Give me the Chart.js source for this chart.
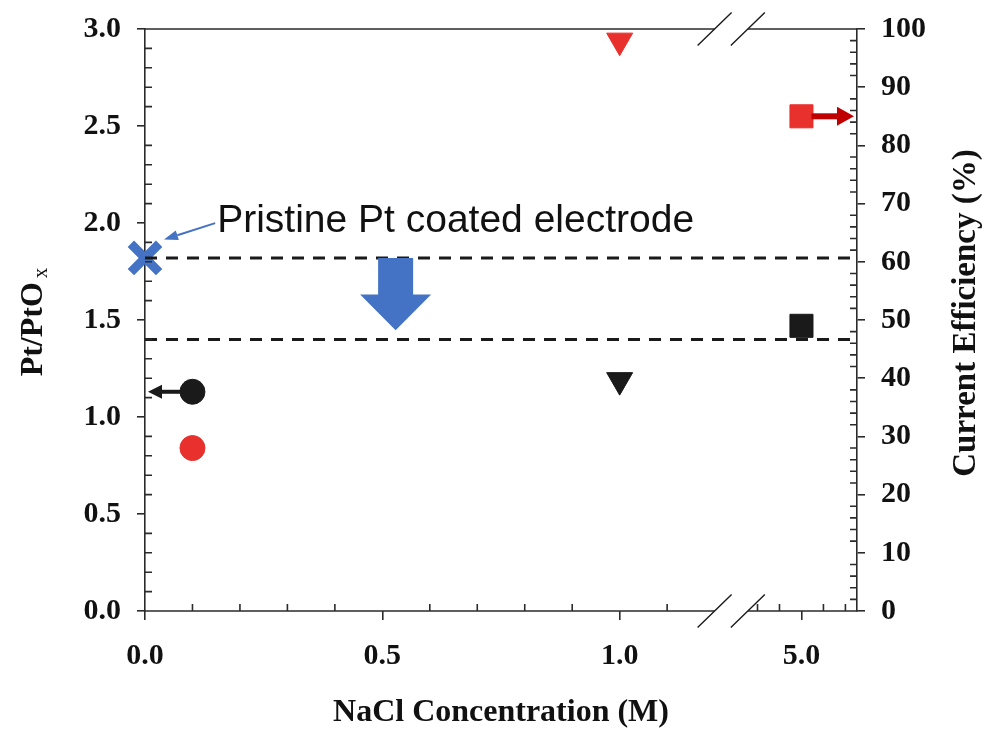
<!DOCTYPE html>
<html>
<head>
<meta charset="utf-8">
<script src="https://cdn.jsdelivr.net/npm/chart.js@4.4.0/dist/chart.umd.min.js"></script>
<style>
  html, body { margin: 0; background: #fff; }
  #chart { display: block; }
</style>
</head>
<body>
<canvas id="chart" width="988" height="729"></canvas>
<script>
// NaCl concentration (M) of the aged electrodes
const concentrations = [0.1, 1.0, 5.0];
// Pt/PtOx ratio, left axis (black markers)
const ptRatio = [1.13, 1.19, 1.47];
// current efficiency in %, right axis (red markers)
const efficiency = [28, 98, 85];
const markerStyles = ['circle', 'triangle', 'rect'];
const markerRotation = [0, 180, 0];
// pristine electrode
const pristineConc = [0];
const pristineRatio = [1.82];
// dashed levels: pristine ratio and aged ratio
const bandLevels = [1.82, 1.40];
const xTickConc = [0, 0.5, 1.0, 5.0];
const xTickLabels = ['0.0', '0.5', '1.0', '5.0'];
const xMinorConc = [0.1, 0.2, 0.3, 0.4, 0.6, 0.7, 0.8, 0.9, 1.1, 4.0, 4.5, 5.5, 6.0];
const pristineLabel = 'Pristine Pt coated electrode';

// broken x axis: linear 0..1.2 M, then a compressed piece around 5 M
const X_MAX = 1.5;
const BREAK = [1.2, 1.27];
const xPos = c => c <= BREAK[0] ? c : 1.383 + (c - 5) * 0.0926;

const BLUE = '#4472c4';
const RED = '#e8312d';
const DARK_RED = '#c00000';
const BLACK = '#1a1a1a';
const AXIS = '#2b2b2b';
const SERIF = "'Liberation Serif', 'Times New Roman', serif";

function arrow(ctx, x0, y0, x1, y1, lw, headLen, headHalf, color) {
  const ang = Math.atan2(y1 - y0, x1 - x0);
  const bx = x1 - Math.cos(ang) * headLen, by = y1 - Math.sin(ang) * headLen;
  ctx.strokeStyle = color;
  ctx.fillStyle = color;
  ctx.lineWidth = lw;
  ctx.beginPath();
  ctx.moveTo(x0, y0);
  ctx.lineTo(bx, by);
  ctx.stroke();
  ctx.beginPath();
  ctx.moveTo(x1, y1);
  ctx.lineTo(bx + Math.sin(ang) * headHalf, by - Math.cos(ang) * headHalf);
  ctx.lineTo(bx - Math.sin(ang) * headHalf, by + Math.cos(ang) * headHalf);
  ctx.closePath();
  ctx.fill();
}

const decor = {
  id: 'decor',
  afterDraw(chart) {
    const { ctx, chartArea: a, scales: { x, y, y1 } } = chart;
    ctx.save();

    // frame lines top/bottom with the axis break
    const b0 = x.getPixelForValue(BREAK[0]), b1 = x.getPixelForValue(BREAK[1]);
    ctx.strokeStyle = AXIS;
    ctx.lineWidth = 1.6;
    ctx.beginPath();
    [a.top, a.bottom].forEach(yy => {
      ctx.moveTo(a.left - 0.8, yy); ctx.lineTo(b0, yy);
      ctx.moveTo(b1, yy); ctx.lineTo(a.right + 0.8, yy);
    });
    ctx.stroke();
    ctx.strokeStyle = BLACK;
    ctx.lineWidth = 1.4;
    ctx.beginPath();
    [a.top, a.bottom].forEach(yy => {
      [b0, b1].forEach(bx => { ctx.moveTo(bx - 17, yy + 16.5); ctx.lineTo(bx + 17, yy - 16.5); });
    });
    ctx.stroke();

    // minor ticks, pointing inwards
    ctx.strokeStyle = AXIS;
    ctx.lineWidth = 1.6;
    ctx.beginPath();
    for (let i = 1; i < 30; i++) {
      if (i % 5 === 0) continue;
      const py = y.getPixelForValue(i / 10);
      ctx.moveTo(a.left, py); ctx.lineTo(a.left + 7, py);
    }
    for (let v = 2; v < 100; v += 2) {
      if (v % 10 === 0) continue;
      const py = y1.getPixelForValue(v);
      ctx.moveTo(a.right, py); ctx.lineTo(a.right - 7, py);
    }
    xMinorConc.forEach(c => {
      const px = x.getPixelForValue(xPos(c));
      ctx.moveTo(px, a.bottom); ctx.lineTo(px, a.bottom - 7);
    });
    ctx.stroke();

    // big arrow: drop of the ratio from pristine to aged
    const ax = x.getPixelForValue(0.528);
    const yTop = y.getPixelForValue(bandLevels[0]);
    const yHead = y.getPixelForValue(1.632);
    const yTip = y.getPixelForValue(1.447);
    ctx.fillStyle = BLUE;
    ctx.beginPath();
    ctx.moveTo(ax - 17.5, yTop);
    ctx.lineTo(ax + 17.5, yTop);
    ctx.lineTo(ax + 17.5, yHead);
    ctx.lineTo(ax + 35.5, yHead);
    ctx.lineTo(ax, yTip);
    ctx.lineTo(ax - 35.5, yHead);
    ctx.lineTo(ax - 17.5, yHead);
    ctx.closePath();
    ctx.fill();

    // axis pointers: black circle -> left axis, red square -> right axis
    const cy = y.getPixelForValue(ptRatio[0]);
    const cx = x.getPixelForValue(xPos(concentrations[0]));
    arrow(ctx, cx - 10, cy, a.left + 3, cy, 4, 14, 7, BLACK);
    const sy = y1.getPixelForValue(efficiency[2]);
    const sx = x.getPixelForValue(xPos(concentrations[2]));
    arrow(ctx, sx + 10, sy, a.right - 3, sy, 6, 17, 9.5, DARK_RED);

    // label of the pristine electrode
    const tx = x.getPixelForValue(0.152), ty = y.getPixelForValue(1.953);
    ctx.fillStyle = '#111';
    ctx.font = "39px 'Liberation Sans', Arial, sans-serif";
    ctx.textAlign = 'left';
    ctx.textBaseline = 'alphabetic';
    ctx.fillText(pristineLabel, tx, ty);
    arrow(ctx, tx - 2, ty - 9, x.getPixelForValue(0.04), y.getPixelForValue(1.915), 2, 14, 5, BLUE);

    // axis titles
    ctx.fillStyle = '#111';
    ctx.font = `bold 32px ${SERIF}`;
    ctx.textAlign = 'center';
    ctx.textBaseline = 'middle';
    ctx.fillText('NaCl Concentration (M)', (a.left + a.right) / 2, 713);

    ctx.save();
    ctx.translate(966, 313);
    ctx.rotate(-Math.PI / 2);
    ctx.font = `bold 33px ${SERIF}`;
    ctx.fillText('Current Efficiency (%)', 0, 0);
    ctx.restore();

    ctx.save();
    ctx.translate(42, 322);
    ctx.rotate(-Math.PI / 2);
    ctx.textBaseline = 'alphabetic';
    ctx.textAlign = 'left';
    ctx.font = `bold 32px ${SERIF}`;
    const w1 = ctx.measureText('Pt/PtO').width;
    ctx.font = `21px ${SERIF}`;
    const w2 = ctx.measureText('x').width;
    const start = -(w1 + 4 + w2) / 2;
    ctx.font = `bold 32px ${SERIF}`;
    ctx.fillText('Pt/PtO', start, 0);
    ctx.font = `21px ${SERIF}`;
    ctx.fillText('x', start + w1 + 4, 5);
    ctx.restore();

    ctx.restore();
  }
};

const tickFont = { family: SERIF, weight: 'bold', size: 30 };
const hline = level => [{ x: 0, y: level }, { x: X_MAX, y: level }];

// fixed axis box sizes so the plot area lands where it should
const fitVertical = width => scale => {
  scale.width = width;
  scale.paddingTop = 0;
  scale.paddingBottom = 0;
};

new Chart(document.getElementById('chart'), {
  type: 'scatter',
  data: {
    datasets: [
      ...bandLevels.map(level => ({
        type: 'line',
        data: hline(level),
        yAxisID: 'y',
        borderColor: BLACK,
        borderWidth: 3,
        borderDash: [12, 9],
        pointRadius: 0,
        clip: false
      })),
      {
        label: 'Pristine',
        data: pristineConc.map((c, i) => ({ x: xPos(c), y: pristineRatio[i] })),
        yAxisID: 'y',
        pointStyle: 'crossRot',
        pointRadius: 20,
        pointBorderWidth: 9,
        borderColor: BLUE,
        backgroundColor: BLUE,
        clip: false
      },
      {
        label: 'Pt/PtOx',
        data: concentrations.map((c, i) => ({ x: xPos(c), y: ptRatio[i] })),
        yAxisID: 'y',
        pointStyle: markerStyles,
        pointRotation: markerRotation,
        pointRadius: [12.5, 15, 16.3],
        pointBorderWidth: 1,
        borderColor: BLACK,
        backgroundColor: BLACK,
        clip: false
      },
      {
        label: 'Current efficiency',
        data: concentrations.map((c, i) => ({ x: xPos(c), y: efficiency[i] })),
        yAxisID: 'y1',
        pointStyle: markerStyles,
        pointRotation: markerRotation,
        pointRadius: [12.5, 15, 16.3],
        pointBorderWidth: 1,
        borderColor: RED,
        backgroundColor: RED,
        clip: false
      }
    ]
  },
  options: {
    responsive: false,
    animation: false,
    devicePixelRatio: 1,
    layout: { padding: { top: 28.5 } },
    plugins: { legend: { display: false }, tooltip: { enabled: false } },
    scales: {
      x: {
        type: 'linear',
        min: 0,
        max: X_MAX,
        afterBuildTicks: scale => { scale.ticks = xTickConc.map(c => ({ value: xPos(c) })); },
        afterFit: scale => { scale.height = 118; },
        ticks: {
          callback: (v, i) => xTickLabels[i],
          font: tickFont,
          color: '#111',
          padding: 18,
          maxRotation: 0,
          autoSkip: false
        },
        grid: { drawOnChartArea: false, tickLength: 9, color: AXIS, lineWidth: 1.6 },
        border: { display: false }
      },
      y: {
        position: 'left',
        min: 0,
        max: 3,
        afterFit: fitVertical(145),
        ticks: { stepSize: 0.5, callback: v => v.toFixed(1), font: tickFont, color: '#111', padding: 16 },
        grid: { drawOnChartArea: false, tickLength: 8, color: AXIS, lineWidth: 1.6 },
        border: { color: AXIS, width: 1.6 }
      },
      y1: {
        position: 'right',
        min: 0,
        max: 100,
        afterFit: fitVertical(131),
        ticks: { stepSize: 10, font: tickFont, color: '#111', padding: 16 },
        grid: { drawOnChartArea: false, tickLength: 8, color: AXIS, lineWidth: 1.6 },
        border: { color: AXIS, width: 1.6 }
      }
    }
  },
  plugins: [decor]
});
</script>
</body>
</html>
